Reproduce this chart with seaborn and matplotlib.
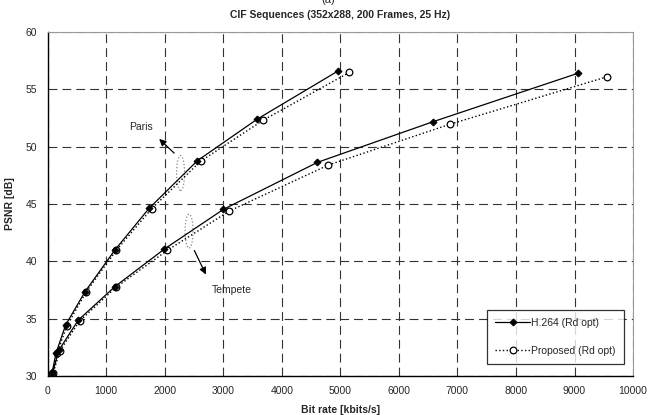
import matplotlib
matplotlib.use("Agg")
import matplotlib.pyplot as plt
import pandas as pd
import seaborn as sns
from matplotlib.patches import Ellipse

# Paris
paris_h264_rate = [79, 142, 307, 638, 1150, 1732, 2557, 3583, 4968]
paris_h264_psnr = [30.37, 32.0, 34.45, 37.35, 41.0, 44.62, 48.77, 52.41, 56.62]
paris_prop_rate = [85, 160, 330, 660, 1170, 1778, 2615, 3686, 5156]
paris_prop_psnr = [30.3, 32.0, 34.4, 37.35, 40.95, 44.6, 48.74, 52.32, 56.48]

# Tempete
tempete_h264_rate = [68, 193, 524, 1150, 1993, 3002, 4609, 6581, 9060]
tempete_h264_psnr = [30.0, 32.27, 34.88, 37.8, 41.07, 44.53, 48.63, 52.17, 56.4]
tempete_prop_rate = [80, 210, 545, 1170, 2044, 3105, 4797, 6865, 9560]
tempete_prop_psnr = [30.05, 32.2, 34.8, 37.75, 40.96, 44.39, 48.40, 51.94, 56.1]

sns.set_style("white")
plt.rcParams['font.family'] = ['Liberation Sans', 'DejaVu Sans']

fig, ax = plt.subplots(figsize=(6.56, 4.15), dpi=100)
fig.subplots_adjust(left=0.0727, right=0.965, top=0.923, bottom=0.094)

h264_kw = dict(color='black', linestyle='-', linewidth=0.9, marker='D',
               markersize=3.5, markerfacecolor='black', markeredgecolor='black')
prop_kw = dict(color='black', linestyle=':', linewidth=1.0, marker='o',
               markersize=4.8, markerfacecolor='white', markeredgecolor='black',
               markeredgewidth=0.9)

sns.lineplot(x=paris_prop_rate, y=paris_prop_psnr, ax=ax, sort=False, **prop_kw)
sns.lineplot(x=tempete_prop_rate, y=tempete_prop_psnr, ax=ax, sort=False, **prop_kw)
sns.lineplot(x=paris_h264_rate, y=paris_h264_psnr, ax=ax, sort=False,
             label='H.264 (Rd opt)', **h264_kw)
sns.lineplot(x=tempete_h264_rate, y=tempete_h264_psnr, ax=ax, sort=False, **h264_kw)
ax.plot([], [], label='Proposed (Rd opt)', **prop_kw)

ax.set_xlim(0, 10000)
ax.set_ylim(30, 60)
ax.set_xticks(range(0, 10001, 1000))
ax.set_yticks(range(30, 61, 5))
ax.grid(True, linestyle=(0, (8, 4.5)), color='#333333', linewidth=0.8)
ax.tick_params(direction='inout', length=5, width=0.8, labelsize=7.5, pad=5)

for side in ['left', 'bottom']:
    ax.spines[side].set_color('black')
    ax.spines[side].set_linewidth(1.0)
for side in ['top', 'right']:
    ax.spines[side].set_color('#999999')
    ax.spines[side].set_linewidth(0.8)

ax.set_xlabel('Bit rate [kbits/s]', fontsize=7.5, fontweight='bold', labelpad=6)
ax.set_ylabel('PSNR [dB]', fontsize=7.5, fontweight='bold', labelpad=8)
ax.set_title('CIF Sequences (352x288, 200 Frames, 25 Hz)', fontsize=7.5,
             fontweight='bold', pad=10)
fig.text(0.5, 0.999, '(a)', ha='center', va='center', fontsize=8)

# annotations
ax.add_patch(Ellipse((2270, 47.7), 137, 3.05, fill=False, edgecolor='#888888',
                     linestyle=':', linewidth=0.9))
ax.add_patch(Ellipse((2415, 42.64), 137, 2.96, fill=False, edgecolor='#888888',
                     linestyle=':', linewidth=0.9))
ax.annotate('', xy=(1870, 50.84), xytext=(2195, 49.27),
            arrowprops=dict(arrowstyle='-|>', color='black', lw=0.9, mutation_scale=10))
ax.annotate('', xy=(2723, 38.63), xytext=(2485, 41.16),
            arrowprops=dict(arrowstyle='-|>', color='black', lw=0.9, mutation_scale=10))
ax.text(1600, 51.7, 'Paris', fontsize=7.5, ha='center', va='center')
ax.text(3150, 37.5, 'Tempete', fontsize=7.5, ha='center', va='center')

leg = ax.legend(loc='lower right', bbox_to_anchor=(0.985, 0.035), fontsize=7.5,
                frameon=True, fancybox=False, edgecolor='black', labelspacing=1.7,
                handlelength=3.4, handletextpad=0.1, borderpad=0.8,
                borderaxespad=0)
leg.get_frame().set_linewidth(0.9)

fig.savefig('out.png', dpi=100)
